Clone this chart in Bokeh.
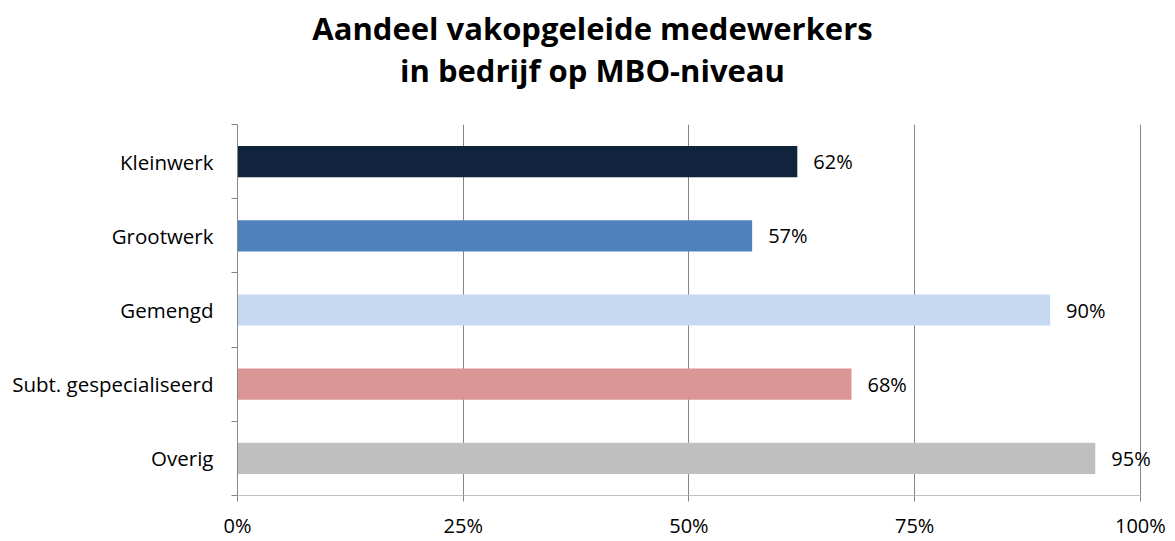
from bokeh.plotting import figure
from bokeh.models import ColumnDataSource, FixedTicker, Range1d, LabelSet
from bokeh.layouts import column
from bokeh.core.properties import value
from bokeh.embed import file_html
from bokeh.resources import INLINE

categories = ["Kleinwerk", "Grootwerk", "Gemengd", "Subt. gespecialiseerd", "Overig"]
values = [62, 57, 90, 68, 95]
colors = ["#10243E", "#4F81BD", "#C6D9F1", "#D99694", "#BFBFBF"]
x_ticks = [0, 25, 50, 75, 100]
x_tick_labels = ["0%", "25%", "50%", "75%", "100%"]
title_lines = ["Aandeel vakopgeleide medewerkers", "in bedrijf op MBO-niveau"]

FONT = "Open Sans"
GRAY = "#868686"
FS = "20px"

W = 1172
TH = 110
MH = 431
LEFT = 237
FRAME_W = 930          # 0..103 units -> 100% lands at x=1140
RIGHT = W - LEFT - FRAME_W
X_END = 103

# ---- title figure (frame aligned with main chart by column layout) ----
t = figure(width=W, height=TH, output_backend="svg", toolbar_location=None,
           x_range=Range1d(0, FRAME_W), y_range=Range1d(TH, 0),
           min_border_left=LEFT, min_border_right=RIGHT, min_border_top=0,
           min_border_bottom=0, outline_line_color=None)
t.axis.visible = False
t.grid.visible = False
tsrc = ColumnDataSource(dict(x=[355, 355], y=[27, 69], txt=title_lines))
t.text(x="x", y="y", text="txt", source=tsrc, text_align="center",
       text_baseline="middle", text_font=value(FONT), text_font_style="bold",
       text_font_size="31px", text_color="#000000")

# ---- main chart ----
n = len(categories)
ypos = [n - 1 - i for i in range(n)]  # first category at top
src = ColumnDataSource(dict(
    y=ypos, v=values, c=colors,
    lab=[f"{v}%" for v in values],
))

p = figure(width=W, height=MH, output_backend="svg", toolbar_location=None,
           x_range=Range1d(0, X_END), y_range=Range1d(-0.5, n - 0.5),
           min_border_left=LEFT, min_border_right=RIGHT, min_border_top=14,
           min_border_bottom=44)
p.outline_line_color = None

p.hbar(y="y", left=0, right="v", height=0.42, fill_color="c", line_color=None, source=src)

labels = LabelSet(x="v", y="y", text="lab", source=src, x_offset=16,
                  text_baseline="middle", text_align="left",
                  text_font=value(FONT), text_font_size=FS, text_color="#000000")
p.add_layout(labels)

# x axis line drawn only from 0% to 100%
p.segment(x0=[x_ticks[0]], x1=[x_ticks[-1]], y0=[-0.5], y1=[-0.5],
          line_color=GRAY, line_width=1)

p.xaxis.ticker = FixedTicker(ticks=x_ticks)
p.xaxis.major_label_overrides = {tk: l for tk, l in zip(x_ticks, x_tick_labels)}
p.xaxis.axis_line_color = None
p.xaxis.major_tick_line_color = GRAY
p.xaxis.major_tick_out = 6
p.xaxis.major_tick_in = 0
p.xaxis.minor_tick_line_color = None
p.xaxis.major_label_standoff = 10
p.xaxis.major_label_text_font = FONT
p.xaxis.major_label_text_font_size = FS
p.xaxis.major_label_text_color = "#000000"

# y axis: labels at centers, tick marks at boundaries
boundaries = [i - 0.5 for i in range(n + 1)]
p.yaxis.ticker = FixedTicker(ticks=ypos, minor_ticks=boundaries)
p.yaxis.major_label_overrides = {y: c for y, c in zip(ypos, categories)}
p.yaxis.axis_line_color = GRAY
p.yaxis.major_tick_line_color = None
p.yaxis.major_tick_out = 0
p.yaxis.major_tick_in = 0
p.yaxis.minor_tick_line_color = GRAY
p.yaxis.minor_tick_out = 6
p.yaxis.minor_tick_in = 0
p.yaxis.major_label_standoff = 18
p.yaxis.major_label_text_font = FONT
p.yaxis.major_label_text_font_size = "20.5px"
p.yaxis.major_label_text_color = "#000000"

p.xgrid.ticker = FixedTicker(ticks=x_ticks[1:])
p.xgrid.grid_line_color = GRAY
p.xgrid.grid_line_width = 1
p.ygrid.grid_line_color = None

layout = column(t, p, spacing=0)
open("out.html", "w").write(file_html(layout, INLINE))
